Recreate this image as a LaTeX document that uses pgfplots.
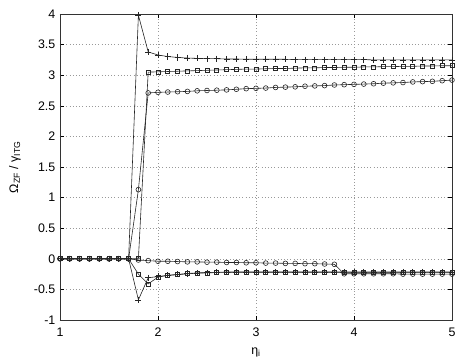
\documentclass[border=0pt]{standalone}
\usepackage{fontspec}
\setmainfont{Liberation Sans}
\usepackage{pgfplots}
\usepackage{pgfplotstable}
\pgfplotsset{compat=1.18}

% growth-rate branches vs eta_i
% pu/su/cu = upper branches (+, square, circle), cl/sl/pl = lower branches
\pgfplotstableread{
x    pu     su     cu     cl      sl      pl
1.0  0      0      0      0       0       0
1.1  0      0      0      0       0       0
1.2  0      0      0      0       0       0
1.3  0      0      0      0       0       0
1.4  0      0      0      0       0       0
1.5  0      0      0      0       0       0
1.6  0      0      0      0       0       0
1.7  0      0      0      0       0       0
1.8  3.98   0.00   1.13   -0.02   -0.25   -0.67
1.9  3.38   3.05   2.71   -0.03   -0.41   -0.31
2.0  3.33   3.055  2.72   -0.04   -0.30   -0.29
2.1  3.305  3.06   2.725  -0.04   -0.27   -0.27
2.2  3.29   3.065  2.73   -0.045  -0.26   -0.255
2.3  3.28   3.07   2.735  -0.05   -0.245  -0.24
2.4  3.275  3.075  2.745  -0.05   -0.235  -0.23
2.5  3.27   3.08   2.75   -0.055  -0.23   -0.225
2.6  3.27   3.085  2.755  -0.055  -0.225  -0.22
2.7  3.265  3.09   2.76   -0.06   -0.225  -0.215
2.8  3.265  3.095  2.77   -0.06   -0.22   -0.215
2.9  3.26   3.10   2.78   -0.065  -0.22   -0.215
3.0  3.26   3.10   2.785  -0.065  -0.22   -0.215
3.1  3.26   3.105  2.79   -0.07   -0.22   -0.215
3.2  3.26   3.11   2.80   -0.07   -0.22   -0.215
3.3  3.26   3.11   2.805  -0.075  -0.22   -0.215
3.4  3.255  3.115  2.81   -0.075  -0.22   -0.215
3.5  3.255  3.12   2.82   -0.08   -0.22   -0.215
3.6  3.255  3.12   2.825  -0.08   -0.22   -0.215
3.7  3.255  3.125  2.83   -0.085  -0.22   -0.215
3.8  3.255  3.125  2.84   -0.09   -0.22   -0.215
3.9  3.255  3.13   2.845  -0.245  -0.225  -0.215
4.0  3.255  3.13   2.85   -0.245  -0.225  -0.215
4.1  3.255  3.135  2.855  -0.245  -0.225  -0.215
4.2  3.25   3.135  2.86   -0.245  -0.225  -0.215
4.3  3.25   3.14   2.87   -0.245  -0.225  -0.215
4.4  3.25   3.14   2.875  -0.245  -0.225  -0.215
4.5  3.25   3.145  2.88   -0.25   -0.225  -0.215
4.6  3.25   3.145  2.89   -0.25   -0.225  -0.215
4.7  3.25   3.15   2.895  -0.25   -0.225  -0.215
4.8  3.25   3.15   2.90   -0.25   -0.225  -0.215
4.9  3.25   3.155  2.91   -0.25   -0.225  -0.215
5.0  3.25   3.155  2.92   -0.25   -0.225  -0.215
}\rates

\begin{document}
\begin{tikzpicture}
\useasboundingbox (-45pt,-30pt) rectangle (300.75pt,240pt);
\begin{axis}[
    at={(0,0)}, anchor=south west,
    scale only axis,
    width=294pt, height=229.5pt,
    xmin=1, xmax=5, ymin=-1, ymax=4,
    xtick={1,2,3,4,5},
    ytick={-1,-0.5,...,4},
    font=\fontsize{9.3}{11}\selectfont,
    /pgf/number format/assume math mode=true,
    tick align=inside,
    major tick length=3pt,
    tick style={black, line width=0.4pt},
    axis line style={black!80, line width=0.6pt},
    grid=major,
    grid style={dotted, black!40, line width=0.4pt},
    xticklabel style={yshift=-2.5pt},
    xlabel={η\textsubscript{i}},
    ylabel={Ω\textsubscript{ZF} / γ\textsubscript{ITG}},
    xlabel style={at={(axis description cs:0.5,-0.105)}, anchor=center},
    ylabel style={at={(axis description cs:-0.115,0.5)}, anchor=center},
    every axis plot/.append style={black!85, line width=0.45pt},
]
\addplot[mark=+, mark size=2.3pt] table[x=x, y=pu] {\rates};
\addplot[mark=square, mark size=1.5pt] table[x=x, y=su] {\rates};
\addplot[mark=o, mark size=1.8pt] table[x=x, y=cu] {\rates};
\addplot[mark=o, mark size=1.8pt] table[x=x, y=cl] {\rates};
\addplot[mark=square, mark size=1.5pt] table[x=x, y=sl] {\rates};
\addplot[mark=+, mark size=2.3pt] table[x=x, y=pl] {\rates};
\end{axis}
\end{tikzpicture}
\end{document}
